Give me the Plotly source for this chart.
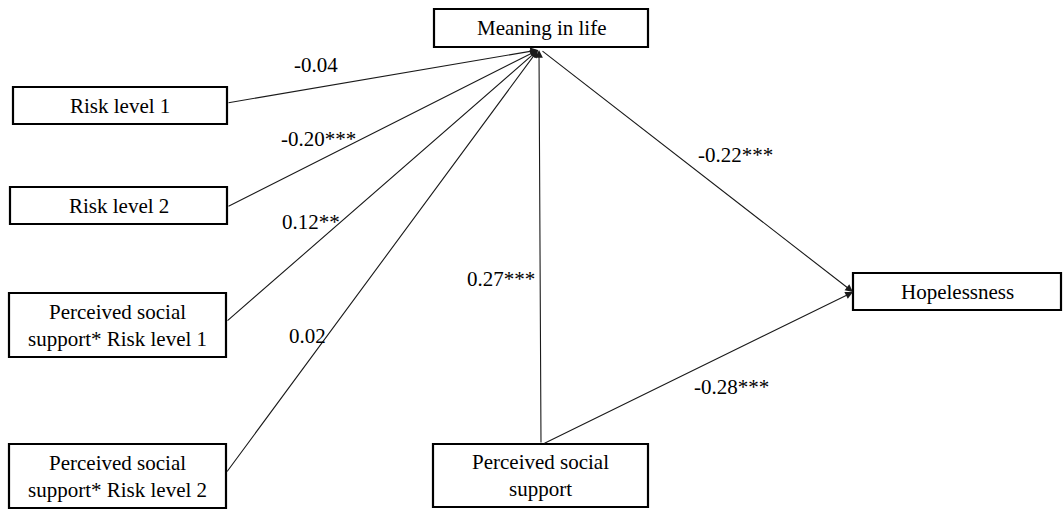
import plotly.graph_objects as go

# ---- data ----
node_names = ["Meaning in life", "Risk level 1", "Risk level 2",
              "Perceived social<br>support* Risk level 1",
              "Perceived social<br>support* Risk level 2",
              "Perceived social<br>support", "Hopelessness"]
path_from = ["Risk level 1", "Risk level 2", "PSS*R1", "PSS*R2", "PSS", "Meaning", "PSS"]
path_to = ["Meaning", "Meaning", "Meaning", "Meaning", "Meaning", "Hopelessness", "Hopelessness"]
path_coef = ["-0.04", "-0.20***", "0.12**", "0.02", "0.27***", "-0.22***", "-0.28***"]

# ---- layout (pixel geometry) ----
W, H = 1063, 509
boxes = [  # x0, y0, x1, y1
    (434, 9, 648, 47),
    (13, 87, 227, 124),
    (10, 187, 227, 224),
    (9, 293, 226, 357),
    (9, 444, 226, 508),
    (433, 444, 648, 507),
    (853, 273, 1061, 310),
]
# tail (x, y) -> head (x, y)
paths = [
    ((227, 103), (538, 50)),
    ((227, 207), (538, 50)),
    ((226, 322), (538, 50)),
    ((226, 473), (538, 50)),
    ((541, 444), (539, 50)),
    ((541, 50), (853, 292)),
    ((543, 444), (853, 292)),
]
label_pos = [(316, 65), (318, 139), (311, 222), (307, 336),
             (501, 279), (735, 155), (731, 387)]

FONT = "Liberation Serif"

fig = go.Figure()
fig.add_trace(go.Scatter(x=[0, W], y=[0, H], mode="markers",
                         marker=dict(opacity=0), hoverinfo="skip", showlegend=False))

shapes = []
annotations = []
for (x0, y0, x1, y1), name in zip(boxes, node_names):
    shapes.append(dict(type="rect", xref="x", yref="y", x0=x0, y0=y0, x1=x1, y1=y1,
                       line=dict(color="black", width=2.2), fillcolor="white", layer="below"))
    annotations.append(dict(x=(x0 + x1) / 2, y=(y0 + y1) / 2, xref="x", yref="y",
                            text=name, showarrow=False,
                            font=dict(family=FONT, size=21, color="black")))

for ((tx, ty), (hx, hy)) in paths:
    annotations.append(dict(x=hx, y=hy, ax=tx, ay=ty, xref="x", yref="y",
                            axref="x", ayref="y", text="", showarrow=True,
                            arrowhead=2, arrowsize=1.4, arrowwidth=1.1,
                            arrowcolor="#1a1a1a", standoff=0, startstandoff=0))

for (lx, ly), txt in zip(label_pos, path_coef):
    annotations.append(dict(x=lx, y=ly, xref="x", yref="y", text=txt, showarrow=False,
                            font=dict(family=FONT, size=21, color="black")))

fig.update_layout(
    width=W, height=H, margin=dict(l=0, r=0, t=0, b=0),
    paper_bgcolor="white", plot_bgcolor="white",
    font=dict(family=FONT),
    xaxis=dict(range=[0, W], visible=False, fixedrange=True),
    yaxis=dict(range=[H, 0], visible=False, fixedrange=True),
    shapes=shapes, annotations=annotations, showlegend=False,
)
fig.write_html("out.html", config={"displayModeBar": False},
               post_script="document.body.style.margin='0';document.body.style.overflow='hidden';")
